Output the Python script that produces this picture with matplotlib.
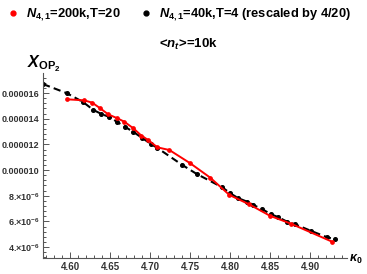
import matplotlib
matplotlib.use("Agg")
import matplotlib.pyplot as plt
from matplotlib.lines import Line2D
from matplotlib.ticker import MultipleLocator

plt.rcParams['font.family'] = ['Liberation Sans', 'DejaVu Sans']
plt.rcParams['mathtext.fontset'] = 'custom'
plt.rcParams['mathtext.rm'] = 'Liberation Sans:bold'
plt.rcParams['mathtext.it'] = 'Liberation Sans:bold:italic'
plt.rcParams['mathtext.bf'] = 'Liberation Sans:bold'

# red: N41=200k, T=20
red_k = [4.596, 4.6175, 4.6275, 4.6375, 4.6475, 4.659, 4.6675, 4.679, 4.689, 4.6975,
         4.709, 4.724, 4.75, 4.775, 4.799, 4.824, 4.85, 4.876, 4.927]
red_x = [15.51, 15.43, 15.25, 14.81, 14.34, 14.03, 13.77, 13.25, 12.68, 12.34,
         11.77, 11.56, 10.53, 9.41, 8.06, 7.32, 6.43, 5.82, 4.43]
# black: N41=40k, T=4 (rescaled)
blk_k = [4.566, 4.596, 4.616, 4.629, 4.639, 4.649, 4.659, 4.669, 4.679, 4.690, 4.701,
         4.709, 4.740, 4.758, 4.790, 4.800, 4.810, 4.821, 4.829, 4.840, 4.851, 4.860,
         4.871, 4.881, 4.901, 4.921, 4.931]
blk_x = [16.70, 15.98, 15.30, 14.68, 14.37, 14.13, 13.74, 13.35, 12.97, 12.50, 12.03,
         11.72, 10.40, 9.70, 8.66, 8.19, 7.81, 7.54, 7.28, 6.95, 6.56, 6.33,
         5.98, 5.78, 5.26, 4.77, 4.61]
scale = 1e-6

xticks = [4.60, 4.65, 4.70, 4.75, 4.80, 4.85, 4.90]
xtick_labels = ['4.60', '4.65', '4.70', '4.75', '4.80', '4.85', '4.90']
yticks = [4, 6, 8, 10, 12, 14, 16]
ytick_labels = [r'4.$\times$10$^{-6}$', r'6.$\times$10$^{-6}$', r'8.$\times$10$^{-6}$',
                '0.000010', '0.000012', '0.000014', '0.000016']

W, H = 367, 274
fig = plt.figure(figsize=(W / 100, H / 100), dpi=100)
ax = fig.add_axes([43 / W, 1 - 258 / H, (347 - 43) / W, (258 - 73) / H])

ax.plot(blk_k, [v * scale for v in blk_x], color='black', ls=(0, (3.5, 2)), lw=1.5,
        marker='o', ms=2.6, zorder=2)
ax.plot(red_k, [v * scale for v in red_x], color='#ff0000', lw=1.4,
        marker='o', ms=2.4, zorder=3)

ax.set_xlim(4.566, 4.946)
ax.set_ylim(3.15e-6, 17.56e-6)
ax.set_xticks(xticks)
ax.set_xticklabels(xtick_labels)
ax.set_yticks([v * scale for v in yticks])
ax.set_yticklabels(ytick_labels)
ax.xaxis.set_minor_locator(MultipleLocator(0.01))
ax.yaxis.set_minor_locator(MultipleLocator(0.4e-6))
for s in ['top', 'right']:
    ax.spines[s].set_visible(False)
for s in ['left', 'bottom']:
    ax.spines[s].set_color('#555555')
    ax.spines[s].set_linewidth(0.8)
ax.tick_params(which='both', direction='in', color='#555555', width=0.7)
ax.tick_params(which='major', length=4, labelsize=7, pad=3)
ax.tick_params(axis='y', which='major', labelsize=6.5, pad=2.5)
ax.tick_params(which='minor', length=2)
for lab in ax.get_xticklabels() + ax.get_yticklabels():
    lab.set_fontweight('bold')
    lab.set_color('#333333')

fig.text(27 / W, 1 - 64 / H, r'$X_{\mathrm{OP}_2}$', fontsize=11.5, ha='left', va='center')
fig.text(349 / W, 1 - 259 / H, r'$\kappa_0$', fontsize=9, ha='left', va='center',
         family='DejaVu Sans')
fig.text(188 / W, 1 - 44 / H, r'<$n_t$>=10k', fontsize=9.5, fontweight='bold',
         ha='center', va='center')

handles = [Line2D([], [], color='#ff0000', marker='o', ls='none', ms=3.5),
           Line2D([], [], color='black', marker='o', ls='none', ms=3.5)]
labels = [r'$N_{4,1}$=200k,T=20', r'$N_{4,1}$=40k,T=4 (rescaled by 4/20)']
leg = fig.legend(handles, labels, loc='center left', bbox_to_anchor=(4 / W, 1 - 15 / H),
                 ncol=2, frameon=False, handlelength=0.8, handletextpad=0.6,
                 columnspacing=1.6, borderaxespad=0, borderpad=0.3,
                 prop={'weight': 'bold', 'size': 9.3})

fig.savefig('out.png', dpi=100)
